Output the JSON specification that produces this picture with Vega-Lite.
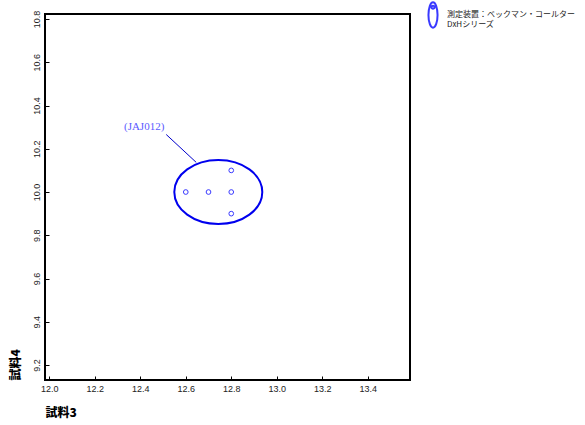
{
  "$schema": "https://vega.github.io/schema/vega-lite/v6.json",
  "autosize": "none",
  "width": 365,
  "height": 366,
  "padding": {"left": 45, "top": 14, "right": 175, "bottom": 45},
  "background": "white",
  "config": {
    "view": {"stroke": "black", "strokeWidth": 2},
    "axis": {"grid": false, "domain": false, "labelFont": "Liberation Sans", "labelFontSize": 9, "labelColor": "#222", "tickColor": "black", "tickWidth": 1, "tickSize": -4, "titleFont": "Noto Sans CJK JP", "titleFontWeight": 900, "titleFontSize": 12, "titleColor": "black"},
    "legend": {"labelLineHeight": 11}
  },
  "datasets": {
    "pts": [
      {"x": 12.6, "y": 10.0, "device": "測定装置：ベックマン・コールター"},
      {"x": 12.7, "y": 10.0, "device": "測定装置：ベックマン・コールター"},
      {"x": 12.8, "y": 10.0, "device": "測定装置：ベックマン・コールター"},
      {"x": 12.8, "y": 10.1, "device": "測定装置：ベックマン・コールター"},
      {"x": 12.8, "y": 9.9, "device": "測定装置：ベックマン・コールター"}
    ],
    "ell": [{"x": 12.743, "y": 10.0}],
    "lead": [{"x": 12.514, "y": 10.266, "x2": 12.646, "y2": 10.137}],
    "lab": [{"x": 12.417, "y": 10.30, "label": "(JAJ012)"}]
  },
  "layer": [
    {
      "data": {"name": "ell"},
      "mark": {"type": "point", "shape": "M-1,0A1,0.727,0,1,1,1,0A1,0.727,0,1,1,-1,0Z", "size": 7744, "filled": false, "stroke": "#0000ee", "strokeWidth": 2, "opacity": 1},
      "encoding": {
        "x": {"field": "x", "type": "quantitative", "scale": {"domain": [11.981, 13.586], "nice": false, "zero": false},
          "axis": {"values": [12.0, 12.2, 12.4, 12.6, 12.8, 13.0, 13.2, 13.4], "format": ".1f", "labelPadding": 8, "title": "試料3", "titleAnchor": "start", "titleAlign": "left", "titlePadding": 14}},
        "y": {"field": "y", "type": "quantitative", "scale": {"domain": [9.131, 10.823], "nice": false, "zero": false},
          "axis": {"values": [9.2, 9.4, 9.6, 9.8, 10.0, 10.2, 10.4, 10.6, 10.8], "format": ".1f", "labelAngle": 270, "labelPadding": 8, "title": "試料4", "titleAnchor": "start", "titlePadding": 10}}
      }
    },
    {
      "data": {"name": "lead"},
      "mark": {"type": "rule", "color": "#0000cc", "strokeWidth": 1},
      "encoding": {
        "x": {"field": "x", "type": "quantitative"},
        "y": {"field": "y", "type": "quantitative"},
        "x2": {"field": "x2"},
        "y2": {"field": "y2"}
      }
    },
    {
      "data": {"name": "lab"},
      "mark": {"type": "text", "font": "Liberation Serif", "fontSize": 11, "color": "#5a5aff"},
      "encoding": {
        "x": {"field": "x", "type": "quantitative"},
        "y": {"field": "y", "type": "quantitative"},
        "text": {"field": "label"}
      }
    },
    {
      "data": {"name": "pts"},
      "mark": {"type": "point", "filled": false, "size": 22, "strokeWidth": 1, "opacity": 1},
      "encoding": {
        "x": {"field": "x", "type": "quantitative"},
        "y": {"field": "y", "type": "quantitative"},
        "color": {"field": "device", "type": "nominal", "scale": {"range": ["#3a3aff"]},
          "legend": {"title": null, "orient": "none", "legendX": 374, "legendY": -13,
            "symbolType": "M-0.36,0A0.36,1,0,1,1,0.36,0A0.36,1,0,1,1,-0.36,0Z M-0.12,-0.62A0.12,0.12,0,1,1,0.12,-0.62A0.12,0.12,0,1,1,-0.12,-0.62Z",
            "symbolSize": 640, "symbolStrokeColor": "#0000ee", "symbolStrokeWidth": 2, "symbolFillColor": "transparent",
            "labelExpr": "['測定装置：ベックマン・コールター', 'DxHシリーズ']",
            "labelFont": "Noto Sans CJK JP", "labelFontSize": 8, "labelColor": "#222", "labelBaseline": "middle", "labelOffset": 0, "labelLimit": 300}}
      }
    }
  ]
}
